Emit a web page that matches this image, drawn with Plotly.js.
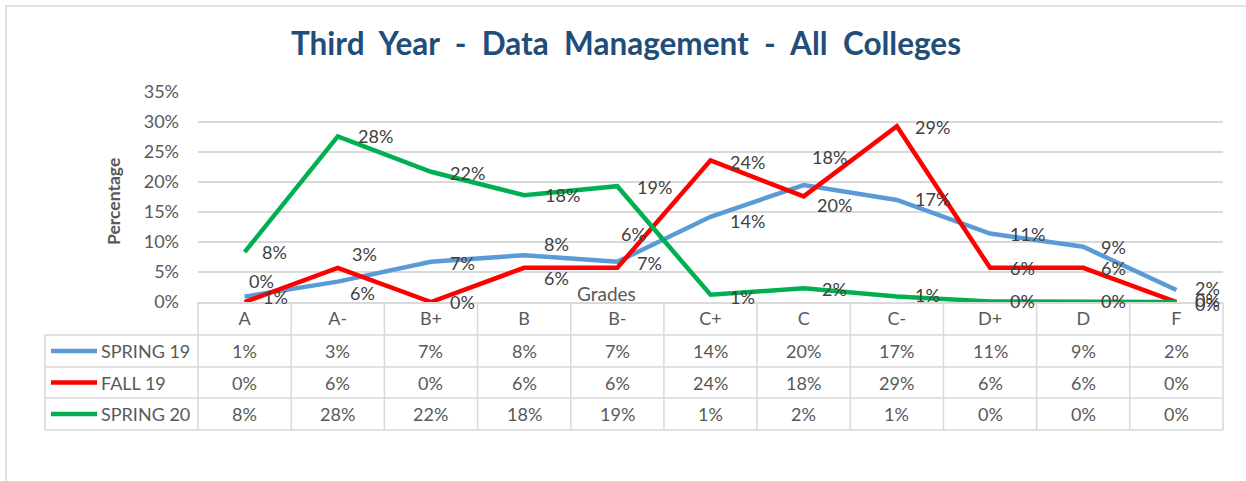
<!DOCTYPE html>
<html><head><meta charset="utf-8">
<script src="https://cdn.plot.ly/plotly-3.0.1.min.js"></script>
<style>html,body{margin:0;padding:0;background:#fff;overflow:hidden;} #chart{width:1246px;height:481px;}</style>
</head><body><div id="chart"></div>
<script>
// ---- data ----
const grades = ['A','A-','B+','B','B-','C+','C','C-','D+','D','F'];
const seriesNames = ['SPRING 19','FALL 19','SPRING 20'];
const spring19 = [0.9, 3.4, 6.7, 7.8, 6.7, 14.2, 19.5, 17.0, 11.4, 9.2, 2.0];
const fall19   = [0, 5.7, 0, 5.7, 5.7, 23.6, 17.6, 29.3, 5.7, 5.7, 0];
const spring20 = [8.3, 27.6, 21.7, 17.8, 19.3, 1.2, 2.3, 0.9, 0.1, 0.1, 0];
const yTicks = [0, 5, 10, 15, 20, 25, 30, 35];
const chartTitle = 'Third  Year  -  Data  Management  -  All  Colleges';
const xTitle = 'Grades';
const yTitle = 'Percentage';

// ---- style ----
const colors = ['#5B9BD5', '#FF0000', '#00B050'];
const FONT = 'Lato, "Open Sans", sans-serif';
const W = 1246, H = 481, L = 198, R = 1223, T = 92, B = 302;
const px = x => (x - L) / (R - L);
const py = y => (B - y) / (B - T);
// label nudges (pixel offsets of label centre from the point), Excel-like placement
const labelOffsets = [
  {dx:[31,27,32,32,32,37,31,36,37,30,31], dy:[0,-28,1,-11,1,4,20,-1,0,0,-2]},
  {dx:[17,25,32,32,16,37,26,36,32,30,31], dy:[-21,25,0,10,-34,2,-39,1,0,0,-2]},
  {dx:[30,38,37,38,37,32,31,31,32,30,31], dy:[0,0,1,0,1,2,1,-2,0,0,2]}
];
const allSeries = [spring19, fall19, spring20];
const fmt = v => Math.round(v) + '%';

const traces = allSeries.map((vals, s) => ({
  type: 'scatter', mode: 'lines', name: seriesNames[s],
  x: grades, y: vals,
  line: {color: colors[s], width: 4.5},
  hoverinfo: 'skip', showlegend: false
}));

const annotations = [];
const shapes = [];
const gridCol = '#d9d9d9';
const FS = 18;

// data labels
allSeries.forEach((vals, s) => {
  vals.forEach((v, i) => {
    annotations.push({
      x: grades[i], y: v, xref: 'x', yref: 'y', text: fmt(v), showarrow: false,
      xanchor: 'center', yanchor: 'middle',
      xshift: labelOffsets[s].dx[i], yshift: -labelOffsets[s].dy[i],
      font: {family: FONT, size: FS, color: '#404040'}
    });
  });
});

// table rows
const rowTop = [335, 367, 398];
const rowBot = [367, 398, 430];
allSeries.forEach((vals, s) => {
  const cy = py((rowTop[s] + rowBot[s]) / 2);
  vals.forEach((v, i) => {
    annotations.push({
      x: grades[i], y: cy, xref: 'x', yref: 'paper', text: fmt(v), showarrow: false,
      xanchor: 'center', yanchor: 'middle',
      font: {family: FONT, size: FS, color: '#595959'}
    });
  });
  // legend key
  shapes.push({type: 'line', xref: 'paper', yref: 'paper', x0: px(51), x1: px(97), y0: cy, y1: cy,
    line: {color: colors[s], width: 4.5}});
  annotations.push({
    x: px(99), y: cy, xref: 'paper', yref: 'paper', text: seriesNames[s], showarrow: false,
    xanchor: 'left', yanchor: 'middle',
    font: {family: FONT, size: FS, color: '#595959'}
  });
});

// table grid
[335, 367, 398, 430].forEach(y => shapes.push({type: 'line', xref: 'paper', yref: 'paper',
  x0: px(45), x1: 1, y0: py(y), y1: py(y), line: {color: gridCol, width: 1.5}}));
shapes.push({type: 'line', xref: 'paper', yref: 'paper', x0: px(45), x1: px(45), y0: py(335), y1: py(430), line: {color: gridCol, width: 1.5}});
shapes.push({type: 'line', xref: 'paper', yref: 'paper', x0: 0, x1: 0, y0: 0, y1: py(430), line: {color: gridCol, width: 1.5}});
shapes.push({type: 'line', xref: 'paper', yref: 'paper', x0: 1, x1: 1, y0: 0, y1: py(430), line: {color: gridCol, width: 1.5}});
for (let i = 1; i < grades.length; i++) {
  shapes.push({type: 'line', xref: 'x', yref: 'paper', x0: i - 0.5, x1: i - 0.5, y0: 0, y1: py(430), line: {color: gridCol, width: 1.5}});
}
// chart border
shapes.push({type: 'rect', xref: 'paper', yref: 'paper', x0: px(6), x1: px(1262), y0: py(6), y1: py(500),
  line: {color: gridCol, width: 1.5}, fillcolor: 'rgba(0,0,0,0)'});

// axis titles
annotations.push({x: px(606), y: py(293), xref: 'paper', yref: 'paper', text: xTitle, showarrow: false,
  xanchor: 'center', yanchor: 'middle', font: {family: FONT, size: 19, color: '#595959'}});
annotations.push({x: px(113), y: py(202), xref: 'paper', yref: 'paper', text: '<b>' + yTitle + '</b>', showarrow: false,
  textangle: -90, xanchor: 'center', yanchor: 'middle', font: {family: FONT, size: 17.5, color: '#595959'}});

const layout = {
  width: W, height: H,
  margin: {l: L, r: W - R, t: T, b: H - B, pad: 0},
  paper_bgcolor: '#fff', plot_bgcolor: '#fff',
  title: {text: '<b>' + chartTitle + '</b>', x: 626 / W, xref: 'container', xanchor: 'center',
    y: 1 - 44 / H, yref: 'container', yanchor: 'middle',
    font: {family: FONT, size: 31.5, color: '#1F4E79'}},
  xaxis: {type: 'category', range: [-0.5, grades.length - 0.5], showgrid: false, zeroline: false,
    showline: true, linecolor: gridCol, linewidth: 1.5, ticks: '', ticklabelstandoff: 0,
    tickfont: {family: FONT, size: FS, color: '#595959'}, fixedrange: true},
  yaxis: {range: [0, 35], tickvals: yTicks, ticktext: yTicks.map(v => v + '%'), showgrid: true,
    gridcolor: gridCol, gridwidth: 1.5, zeroline: false, showline: false, ticks: '',
    ticklabelstandoff: 18, tickfont: {family: FONT, size: FS, color: '#595959'}, fixedrange: true},
  annotations: annotations, shapes: shapes,
  showlegend: false
};

Plotly.newPlot('chart', traces, layout, {displayModeBar: false, staticPlot: true});
</script>
</body></html>
